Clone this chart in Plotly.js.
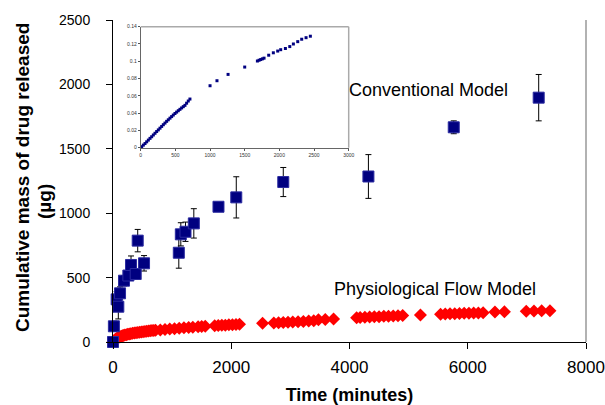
<!DOCTYPE html>
<html>
<head>
<meta charset="utf-8">
<script src="https://cdn.plot.ly/plotly-3.0.1.min.js"></script>
<style>html,body{margin:0;padding:0;background:#fff;}#chart{width:605px;height:405px;}</style>
</head>
<body>
<div id="chart"></div>
<script>
// Conventional model (blue squares) with error bars
const convTime = [0, 15, 62, 90, 119, 186, 260, 305, 384, 418, 525, 1113, 1147, 1226, 1367, 1784, 2085, 2880, 4320, 5763, 7200];
const convMass = [0, 122, 331, 274, 378, 476, 516, 598, 528, 787, 611, 693, 836, 856, 921, 1050, 1123, 1242, 1285, 1667, 1897];
const convErr  = [5, 40, 60, 95, 50, 40, 30, 70, 40, 87, 60, 120, 90, 75, 114, 20, 160, 113, 170, 50, 180];

// Physiological flow model (red diamonds)
const flowTime = [0, 15, 30, 45, 60, 80, 100, 120, 140, 160, 180, 200, 225, 250, 275, 300, 330, 360, 390, 420, 450, 480, 510, 540, 570, 600, 630, 660, 690, 720,
  800, 880, 960, 1040, 1120, 1200, 1280, 1350, 1440, 1500, 1560,
  1720, 1780, 1840, 1900, 1960, 2020, 2080, 2140, 2530,
  2720, 2800, 2880, 2960, 3040, 3130, 3220, 3310, 3395, 3475, 3590, 3730,
  4120, 4180, 4260, 4340, 4420, 4500, 4580, 4660, 4740, 4820, 4900, 5200,
  5540, 5620, 5700, 5780, 5860, 5940, 6020, 6100, 6180, 6260, 6460, 6620,
  6990, 7120, 7250, 7390];
const flowMass = [0, 8, 16, 22, 27, 32, 37, 41, 45, 48, 51, 54, 57, 60, 63, 65, 68, 70, 72, 74, 76, 78, 80, 82, 84, 86, 88, 89, 90, 91,
  94, 97, 100, 103, 107, 110, 113, 115, 118, 120, 122,
  127, 129, 130, 131, 133, 134, 135, 137, 145,
  148, 150, 152, 154, 156, 158, 160, 163, 165, 172, 175, 179,
  188, 190, 192, 194, 196, 197, 199, 200, 202, 203, 205, 209,
  216, 218, 219, 220, 222, 223, 224, 225, 226, 228, 232, 234,
  239, 240, 242, 243];

// Inset series
const insetTime = [14, 38, 62, 86, 110, 134, 158, 182, 206, 230, 254, 278, 302, 326, 350, 374, 398, 422, 446, 470, 494, 518, 542, 566, 590, 614, 638, 662, 686, 710,
  1000, 1100, 1260, 1500, 1683, 1707, 1731, 1755, 1779, 1846, 1913, 1976, 2019, 2087, 2150, 2202, 2265, 2322, 2385, 2447];
const insetFrac = [0.0012, 0.0030, 0.0048, 0.0068, 0.0088, 0.0108, 0.0127, 0.0147, 0.0167, 0.0187, 0.0206, 0.0226, 0.0246, 0.0266, 0.0285, 0.0305, 0.0323, 0.0342, 0.0360, 0.0378, 0.0396, 0.0412, 0.0428, 0.0444, 0.0460, 0.0475, 0.0490, 0.0515, 0.0540, 0.0563,
  0.0717, 0.0775, 0.0848, 0.0933, 0.1003, 0.1012, 0.1020, 0.1028, 0.1036, 0.1070, 0.1098, 0.1118, 0.1134, 0.1148, 0.1170, 0.1200, 0.1227, 0.1255, 0.1273, 0.1290];

const xTicks = [0, 2000, 4000, 6000, 8000];
const yTicks = [0, 500, 1000, 1500, 2000, 2500];
const insetXTicks = [0, 500, 1000, 1500, 2000, 2500, 3000];
const insetYTicks = [0, 0.02, 0.04, 0.06, 0.08, 0.1, 0.12, 0.14];

const labels = ["Conventional Model", "Physiological Flow Model"];
const xTitle = "Time (minutes)";
const yTitleLines = ["Cumulative mass of drug released", "(µg)"];

const FONT = "Arial, 'Liberation Sans', sans-serif";

const traces = [
  {
    x: flowTime, y: flowMass, type: 'scatter', mode: 'markers', cliponaxis: false,
    marker: {symbol: 'diamond', size: 10, color: '#ff0000', line: {width: 0}},
    xaxis: 'x', yaxis: 'y', hoverinfo: 'skip'
  },
  {
    x: convTime, y: convMass, type: 'scatter', mode: 'markers', cliponaxis: false,
    marker: {symbol: 'square', size: 11, color: '#000080', line: {width: 1, color: '#2b2ba0'}},
    error_y: {type: 'data', array: convErr, visible: true, color: '#000', thickness: 1, width: 3},
    xaxis: 'x', yaxis: 'y', hoverinfo: 'skip'
  },
  {
    x: insetTime, y: insetFrac, type: 'scatter', mode: 'markers', cliponaxis: false,
    marker: {symbol: 'square', size: 3, color: '#000080'},
    xaxis: 'x2', yaxis: 'y2', hoverinfo: 'skip'
  }
];

const insetX = [0.0586, 0.4983];
const insetY = [0.6034, 0.9792];

const layout = {
  width: 605, height: 405,
  margin: {l: 113, r: 19, t: 20, b: 63, pad: 0},
  paper_bgcolor: '#fff', plot_bgcolor: '#fff',
  showlegend: false,
  font: {family: FONT, color: '#000'},
  xaxis: {
    domain: [0, 1], range: [0, 8000], tickvals: xTicks, ticktext: xTicks.map(String),
    ticks: 'outside', ticklen: 6, tickcolor: '#000', showline: true, linecolor: '#000', linewidth: 1,
    showgrid: false, zeroline: false, tickfont: {size: 17, family: FONT, color: '#000'}, ticklabelstandoff: 4,
    title: {text: xTitle, font: {size: 18, family: FONT, weight: 'bold', color: '#000'}, standoff: 16},
    automargin: false, fixedrange: true
  },
  yaxis: {
    domain: [0, 1], range: [0, 2500], tickvals: yTicks, ticktext: yTicks.map(String),
    ticks: 'outside', ticklen: 6, tickcolor: '#000', showline: true, linecolor: '#000', linewidth: 1,
    showgrid: false, zeroline: false, tickfont: {size: 14, family: FONT, color: '#000'}, ticklabelstandoff: 13,
    automargin: false, fixedrange: true
  },
  xaxis2: {
    domain: insetX, anchor: 'y2', range: [0, 3000], tickvals: insetXTicks, ticktext: insetXTicks.map(String),
    ticks: 'outside', ticklen: 2, tickcolor: '#555', showline: true, linecolor: '#666', linewidth: 1,
    showgrid: false, zeroline: false, tickfont: {size: 5, family: FONT, color: '#333'}, fixedrange: true
  },
  yaxis2: {
    domain: insetY, anchor: 'x2', range: [0, 0.14], tickvals: insetYTicks, ticktext: insetYTicks.map(String),
    ticks: 'outside', ticklen: 2, tickcolor: '#555', showline: true, linecolor: '#666', linewidth: 1,
    showgrid: false, zeroline: false, tickfont: {size: 5, family: FONT, color: '#333'}, fixedrange: true
  },
  shapes: [
    // main plot right border
    {type: 'line', xref: 'paper', yref: 'paper', x0: 1, x1: 1, y0: 0, y1: 1, line: {color: '#999', width: 1.5}},
    // inset top and right frame
    {type: 'line', xref: 'paper', yref: 'paper', x0: insetX[0], x1: insetX[1], y0: insetY[1], y1: insetY[1], line: {color: '#aaa', width: 1.5}},
    {type: 'line', xref: 'paper', yref: 'paper', x0: insetX[1], x1: insetX[1], y0: insetY[0], y1: insetY[1], line: {color: '#aaa', width: 1.5}}
  ],
  annotations: [
    {text: labels[0], x: 5339, y: 1957, xref: 'x', yref: 'y', showarrow: false, xanchor: 'center', yanchor: 'middle',
     font: {size: 18, family: FONT, color: '#000'}},
    {text: labels[1], x: 5447, y: 411, xref: 'x', yref: 'y', showarrow: false, xanchor: 'center', yanchor: 'middle',
     font: {size: 18, family: FONT, color: '#000'}},
    {text: yTitleLines[0], x: -0.1924, y: 0.5124, xref: 'paper', yref: 'paper', showarrow: false, textangle: -90,
     xanchor: 'center', yanchor: 'middle', font: {size: 19, family: FONT, weight: 'bold', color: '#000'}},
    {text: yTitleLines[1], x: -0.1438, y: 0.4379, xref: 'paper', yref: 'paper', showarrow: false, textangle: -90,
     xanchor: 'center', yanchor: 'middle', font: {size: 19, family: FONT, weight: 'bold', color: '#000'}}
  ]
};

Plotly.newPlot('chart', traces, layout, {staticPlot: true, displayModeBar: false});
</script>
</body>
</html>
